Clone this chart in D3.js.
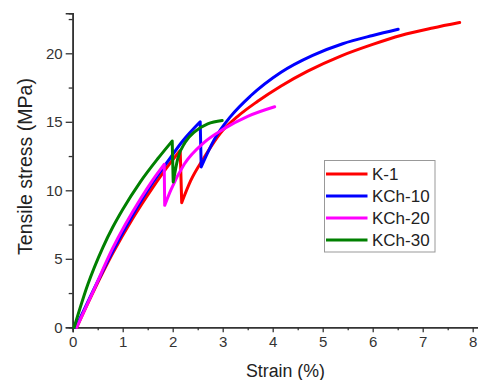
<!DOCTYPE html>
<html>
<head>
<meta charset="utf-8">
<script src="https://cdn.jsdelivr.net/npm/d3@7"></script>
<style>
  body { margin: 0; background: #fff; }
  svg { display: block; font-family: Arial, "Liberation Sans", sans-serif; }
</style>
</head>
<body>
<div id="chart"></div>
<script>
// series names and colours, in drawing order
var series_names = ["K-1", "KCh-10", "KCh-20", "KCh-30"];
var series_colors = ["#ff0000", "#0000ff", "#ff00ff", "#008000"];

// [strain %, stress MPa], before and after the sudden drop
var k1_before = [[0.08, 0], [0.4, 2.5], [0.8, 5.4], [1.2, 7.95], [1.6, 10.2], [1.9, 11.75], [2.15, 12.9]];
var k1_after = [[2.18, 9.1], [2.36, 10.7], [2.63, 12.4], [2.96, 14.2], [3.3, 15.4], [3.7, 16.5], [4.16, 17.6],
                [4.7, 18.7], [5.36, 19.8], [6.0, 20.65], [6.56, 21.3], [7.2, 21.85], [7.74, 22.25]];

var kch10_before = [[0.06, 0], [0.4, 2.6], [0.8, 5.55], [1.2, 8.2], [1.6, 10.55], [1.89, 12.05], [2.2, 13.6], [2.55, 15.0]];
var kch10_after = [[2.57, 11.7], [2.83, 13.7], [3.16, 15.4], [3.56, 16.9], [4.16, 18.6], [4.8, 19.85],
                   [5.4, 20.7], [6.0, 21.3], [6.51, 21.75]];

var kch20_before = [[0.08, 0], [0.4, 2.55], [0.79, 5.7], [1.36, 9.4], [1.6, 10.75], [1.83, 11.9]];
var kch20_after = [[1.84, 8.9], [1.96, 10.0], [2.23, 11.9], [2.63, 13.5], [3.03, 14.5], [3.5, 15.4], [4.04, 16.1]];

var kch30_before = [[0.03, 0], [0.3, 3.1], [0.6, 5.8], [0.8, 7.3], [1.0, 8.6], [1.35, 10.6], [1.7, 12.3], [1.99, 13.6]];
var kch30_after = [[2.01, 10.6], [2.1, 12.3], [2.25, 13.5], [2.45, 14.3], [2.7, 14.85], [2.99, 15.1]];

var curves_before = [k1_before, kch10_before, kch20_before, kch30_before];
var curves_after = [k1_after, kch10_after, kch20_after, kch30_after];

var x_ticks = [0, 1, 2, 3, 4, 5, 6, 7, 8];
var y_ticks = [0, 5, 10, 15, 20];

var svg_width = 478,
    svg_height = 380,
    axis_color = "#333";

var svg = d3.select("#chart").append("svg")
    .attr("width", svg_width)
    .attr("height", svg_height);

var x = d3.scaleLinear().domain([0, 8.2]).range([72.7, 482.7]);
var y = d3.scaleLinear().domain([0, 22.92]).range([327.3, 13.3]);

// minor ticks first, then the labelled major ticks on top
var xMinor = d3.axisBottom(x).tickValues(d3.range(0.5, 8.1, 1)).tickSize(3).tickFormat("");
var yMinor = d3.axisLeft(y).tickValues(d3.range(2.5, 23, 5)).tickSize(4).tickFormat("");
var xMajor = d3.axisBottom(x).tickValues(x_ticks).tickSize(5).tickPadding(4).tickFormat(d3.format("d"));
var yMajor = d3.axisLeft(y).tickValues(y_ticks).tickSize(7).tickPadding(3).tickFormat(d3.format("d"));

var StyleAxis = function (g) {
    g.select(".domain").attr("stroke", axis_color).attr("stroke-width", 1.6);
    g.selectAll(".tick line").attr("stroke", axis_color).attr("stroke-width", 1.3);
    g.selectAll(".tick text").attr("fill", "#333").attr("font-size", "15px")
        .attr("font-family", "Arial, 'Liberation Sans', sans-serif");
};

svg.append("g").attr("transform", "translate(0," + y(0) + ")").call(xMinor).call(StyleAxis);
svg.append("g").attr("transform", "translate(" + x(0) + ",0)").call(yMinor).call(StyleAxis);
svg.append("g").attr("transform", "translate(0," + y(0) + ")").call(xMajor).call(StyleAxis);
svg.append("g").attr("transform", "translate(" + x(0) + ",0)").call(yMajor).call(StyleAxis);

// fit a title to the length it has in the picture
var FitText = function (sel, base_size, target_len) {
    sel.attr("font-size", base_size + "px");
    var len = sel.node().getComputedTextLength();
    if (len > 0) sel.attr("font-size", (base_size * target_len / len).toFixed(2) + "px");
};

var x_title = svg.append("text")
    .attr("x", 285.5)
    .attr("y", 377)
    .attr("text-anchor", "middle")
    .attr("fill", "#222")
    .text("Strain (%)");
FitText(x_title, 17.5, 79);

var y_title = svg.append("text")
    .attr("transform", "translate(32,166.5) rotate(-90)")
    .attr("text-anchor", "middle")
    .attr("fill", "#222")
    .text("Tensile stress (MPa)");
FitText(y_title, 19, 177);

// curves: smooth pieces joined by the straight drop
var smooth = d3.line()
    .x(function (d) { return x(d[0]); })
    .y(function (d) { return y(d[1]); })
    .curve(d3.curveMonotoneX);

for (var i = 0; i < series_names.length; i++) {
    var d = smooth(curves_before[i]) + smooth(curves_after[i]).replace(/^M/, "L");
    svg.append("path")
        .attr("d", d)
        .attr("fill", "none")
        .attr("stroke", series_colors[i])
        .attr("stroke-width", 3)
        .attr("stroke-linejoin", "round")
        .attr("stroke-linecap", "round");
}

// legend
var legend = svg.append("g");
legend.append("rect")
    .attr("x", 324.5)
    .attr("y", 160.5)
    .attr("width", 110.5)
    .attr("height", 91.5)
    .attr("fill", "#fff")
    .attr("stroke", "#999")
    .attr("stroke-width", 1);

for (var i = 0; i < series_names.length; i++) {
    var ly = 174 + i * 22;
    legend.append("line")
        .attr("x1", 326).attr("x2", 367.5)
        .attr("y1", ly).attr("y2", ly)
        .attr("stroke", series_colors[i])
        .attr("stroke-width", 3);
    legend.append("text")
        .attr("x", 372)
        .attr("y", ly + 6)
        .attr("font-size", "17px")
        .attr("fill", "#222")
        .text(series_names[i]);
}
</script>
</body>
</html>
